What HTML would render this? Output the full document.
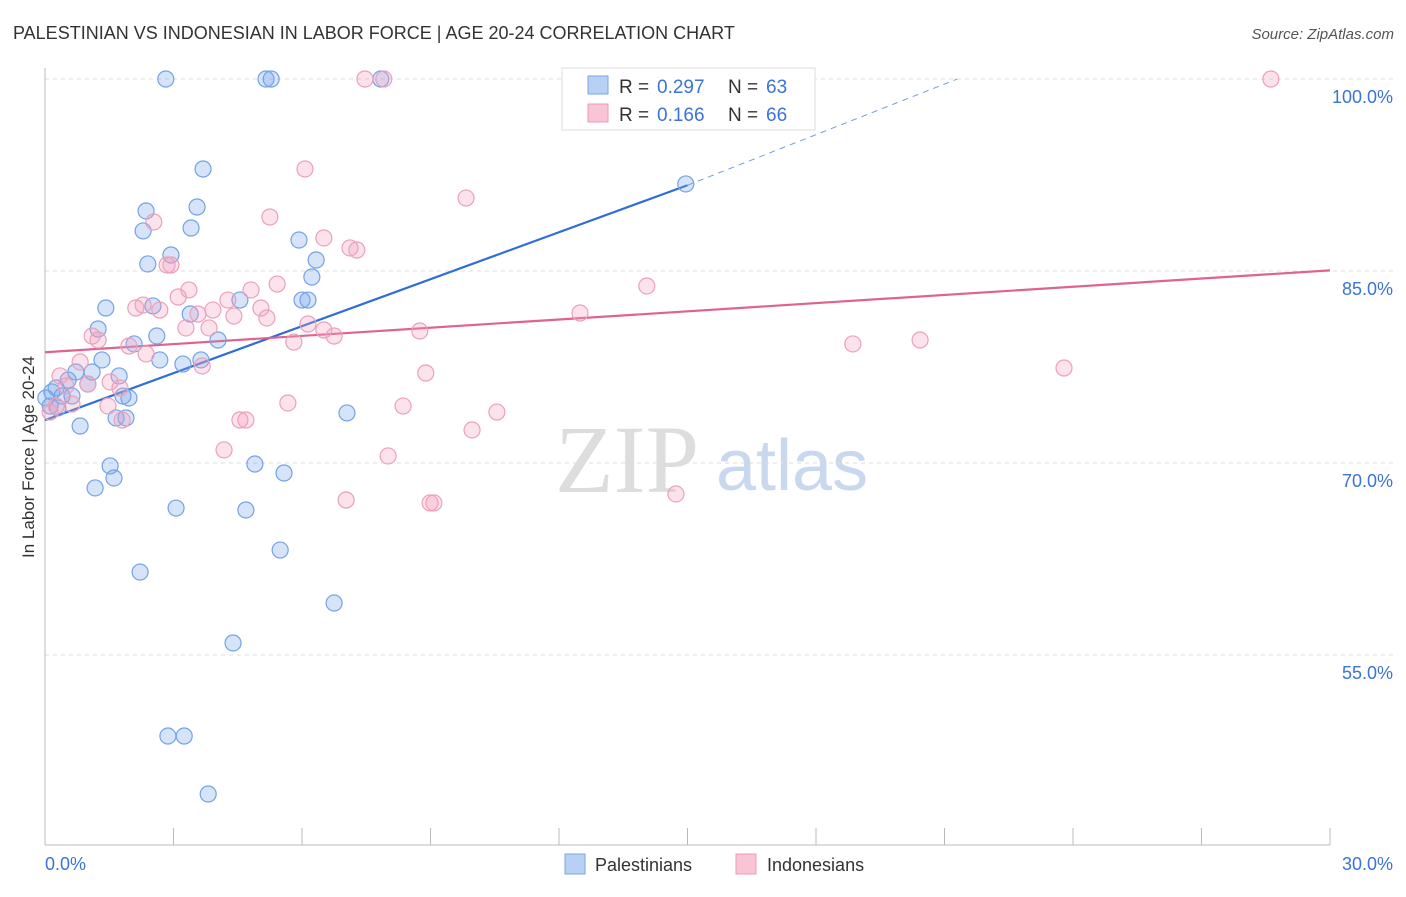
<!DOCTYPE html>
<html><head><meta charset="utf-8"><style>
body{margin:0;background:#fff;font-family:"Liberation Sans",sans-serif;}
</style></head><body>
<svg width="1406" height="892" xmlns="http://www.w3.org/2000/svg" font-family="Liberation Sans, sans-serif">
<text x="13" y="39" font-size="18" fill="#333">PALESTINIAN VS INDONESIAN IN LABOR FORCE | AGE 20-24 CORRELATION CHART</text>
<text x="1394" y="39" font-size="15" fill="#555" text-anchor="end" font-style="italic">Source: ZipAtlas.com</text>
<text x="555" y="492" font-size="96" fill="#ddd" font-family="Liberation Serif, serif">ZIP</text>
<text x="716" y="490" font-size="72" fill="#c8d8ee">atlas</text>
<g id="grid"></g>
<line x1="45" y1="68" x2="45" y2="845" stroke="#bbb"/>
<line x1="45" y1="845" x2="1330" y2="845" stroke="#bbb"/>
<text transform="translate(34,457) rotate(-90)" font-size="17" fill="#333" text-anchor="middle">In Labor Force | Age 20-24</text>
<text x="45" y="870" font-size="18" fill="#3b73d9">0.0%</text>
<text x="1393" y="870" font-size="18" fill="#3b73d9" text-anchor="end">30.0%</text>
<g id="lines"></g>
<g id="pts"></g>
<g>
<rect x="562" y="68" width="253" height="62" fill="#fff" stroke="#ddd"/>
<rect x="588" y="76" width="20" height="18" fill="#b8d0f4" stroke="#7aa6e6"/>
<rect x="588" y="104" width="20" height="18" fill="#f9c5d6" stroke="#eb9ab6"/>
<text x="619" y="93" font-size="19" fill="#333">R =</text>
<text x="657" y="93" font-size="19" fill="#3b73d9">0.297</text>
<text x="728" y="93" font-size="19" fill="#333">N =</text>
<text x="766" y="93" font-size="19" fill="#3b73d9">63</text>
<text x="619" y="121" font-size="19" fill="#333">R =</text>
<text x="657" y="121" font-size="19" fill="#3b73d9">0.166</text>
<text x="728" y="121" font-size="19" fill="#333">N =</text>
<text x="766" y="121" font-size="19" fill="#3b73d9">66</text>
</g>
<g>
<rect x="565" y="854" width="20" height="20" fill="#b8d0f4" stroke="#7aa6e6"/>
<text x="595" y="871" font-size="18" fill="#333">Palestinians</text>
<rect x="736" y="854" width="20" height="20" fill="#f9c5d6" stroke="#eb9ab6"/>
<text x="767" y="871" font-size="18" fill="#333">Indonesians</text>
</g>
</svg>
<script>
const yTicks=[100,85,70,55];
const yTickLabels=["100.0%","85.0%","70.0%","55.0%"];
const xTicks=[0,3,6,9,12,15,18,21,24,27,30];
const bluePx=[[166,79],[266,79],[271,79],[381,79],[626,79],[203,169],[146,211],[197,207],[143,231],[191,228],[171,255],[148,264],[299,240],[316,260],[312,277],[106,308],[240,300],[302,300],[308,300],[98,329],[153,306],[190,314],[157,336],[134,344],[218,340],[102,360],[160,360],[183,364],[201,360],[76,372],[92,372],[119,376],[68,380],[88,384],[56,388],[52,392],[46,398],[62,396],[72,396],[129,398],[123,396],[50,406],[58,408],[116,418],[126,418],[80,426],[347,413],[110,466],[114,478],[95,488],[255,464],[284,473],[176,508],[246,510],[280,550],[140,572],[334,603],[233,643],[168,736],[184,736],[208,794],[686,184]];
const pinkPx=[[365,79],[384,79],[1271,79],[305,169],[466,198],[154,222],[270,217],[324,238],[350,248],[357,250],[167,265],[171,265],[277,284],[251,290],[189,290],[178,297],[136,308],[143,305],[160,310],[198,314],[228,300],[234,316],[261,308],[267,318],[213,310],[186,328],[209,328],[308,324],[324,330],[334,336],[420,331],[294,342],[647,286],[580,313],[853,344],[920,340],[92,336],[98,340],[129,346],[146,354],[80,362],[110,382],[202,366],[60,376],[66,386],[88,384],[120,388],[72,404],[108,406],[426,373],[288,403],[403,406],[497,412],[472,430],[240,420],[246,420],[122,420],[224,450],[388,456],[346,500],[430,503],[434,503],[676,494],[1064,368],[50,412],[56,406]];
const blueX=bluePx.map(p=>+((p[0]-45)/1285*30).toFixed(2));
const blueY=bluePx.map(p=>+(100-(p[1]-79)/12.8).toFixed(2));
const pinkX=pinkPx.map(p=>+((p[0]-45)/1285*30).toFixed(2));
const pinkY=pinkPx.map(p=>+(100-(p[1]-79)/12.8).toFixed(2));
const blueLine=[[0,73.35],[15,91.7],[21.3,100]];
const pinkLine=[[0,78.65],[30,85.05]];
const X=v=>45+v/30*1285, Y=v=>79+(100-v)*12.8;
const NS="http://www.w3.org/2000/svg";
function mk(t,a,parent){const e=document.createElementNS(NS,t);for(const k in a)e.setAttribute(k,a[k]);document.getElementById(parent).appendChild(e);return e;}
yTicks.forEach((v,i)=>{
 const l=mk('line',{x1:45,x2:1394,y1:Y(v),y2:Y(v),stroke:'#ddd','stroke-dasharray':'4,4'},'grid');
 
 
 const t=mk('text',{x:1393,y:Y(v)+24,'font-size':18,fill:'#3b73d9','text-anchor':'end'},'grid');
 t.textContent=yTickLabels[i];
 
 
});
xTicks.forEach(v=>{
 const l=mk('line',{x1:X(v),x2:X(v),y1:828,y2:845,stroke:'#bbb'},'grid');
 
 
});
function pts(xs,ys,fill,stroke,name){xs.forEach((x,i)=>{
 const c=mk('circle',{cx:X(x),cy:Y(ys[i]),r:8,fill:fill,stroke:stroke,'stroke-width':1.2},'pts');
 
 
});}
pts(blueX,blueY,'rgba(120,165,235,0.3)','#74a2e4','palestinian-point');
pts(pinkX,pinkY,'rgba(245,160,190,0.3)','#eba0bb','indonesian-point');
let l=mk('line',{x1:X(blueLine[0][0]),y1:Y(blueLine[0][1]),x2:X(blueLine[1][0]),y2:Y(blueLine[1][1]),stroke:'#2d6fd6','stroke-width':2.2},'lines');


l=mk('line',{x1:X(blueLine[1][0]),y1:Y(blueLine[1][1]),x2:X(blueLine[2][0]),y2:Y(blueLine[2][1]),stroke:'#6e9fe0','stroke-width':1,'stroke-dasharray':'6,5'},'lines');


l=mk('line',{x1:X(pinkLine[0][0]),y1:Y(pinkLine[0][1]),x2:X(pinkLine[1][0]),y2:Y(pinkLine[1][1]),stroke:'#e0628f','stroke-width':2.2},'lines');


</script>
</body></html>
